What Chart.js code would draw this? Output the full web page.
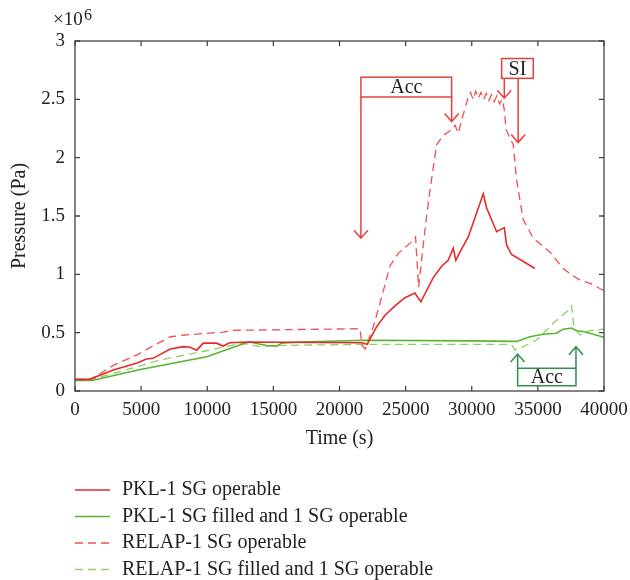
<!DOCTYPE html>
<html>
<head>
<meta charset="utf-8">
<script src="https://cdn.jsdelivr.net/npm/chart.js@4.4.0/dist/chart.umd.min.js"></script>
<style>
  html, body { margin: 0; padding: 0; background: #fff; }
  #wrap { width: 630px; height: 580px; position: relative; }
</style>
</head>
<body>
<div id="wrap"><canvas id="pressureChart"></canvas></div>
<script>
  // time in s, pressure in units of 10^6 Pa
  const pklOpTime = [0, 1100, 2900, 4700, 5400, 5900, 7200, 8200, 8700, 9200, 9700, 10700, 11200, 11700, 13000, 21700, 22100, 22800, 23440, 24200, 24950, 25700, 26150, 27080, 27720, 28220, 28600, 28800, 29100, 29735, 30870, 31120, 31880, 32460, 32640, 33010, 34780];
  const pklOpPress = [0.10, 0.10, 0.18, 0.24, 0.275, 0.28, 0.36, 0.38, 0.375, 0.35, 0.41, 0.41, 0.385, 0.414, 0.42, 0.414, 0.40, 0.55, 0.65, 0.73, 0.80, 0.84, 0.765, 0.97, 1.07, 1.12, 1.225, 1.12, 1.19, 1.32, 1.69, 1.57, 1.365, 1.40, 1.25, 1.17, 1.05];

  const pklFillTime = [0, 1300, 4760, 9950, 12850, 13200, 14490, 15250, 15600, 17000, 22000, 30000, 33400, 34400, 35400, 36400, 36920, 37550, 37920, 38430, 40000];
  const pklFillPress = [0.09, 0.09, 0.18, 0.294, 0.41, 0.42, 0.39, 0.385, 0.41, 0.42, 0.435, 0.43, 0.425, 0.465, 0.486, 0.495, 0.53, 0.54, 0.517, 0.51, 0.46];

  const relapOpTime = [0, 1200, 2900, 4700, 5800, 7200, 8300, 11200, 11950, 21550, 21700, 21950, 22550, 23060, 23810, 24440, 25580, 25750, 25980, 26460, 26840, 27340, 27840, 28480, 28730, 28980, 29230, 29740, 29900, 30100, 30300, 30500, 30700, 30900, 31100, 31300, 31500, 31700, 31900, 32100, 32300, 32450, 32600, 33140, 33390, 33890, 34650, 35910, 36920, 37500, 38180, 39000, 40000];
  const relapOpPress = [0.10, 0.10, 0.22, 0.31, 0.38, 0.465, 0.48, 0.505, 0.52, 0.534, 0.39, 0.36, 0.55, 0.75, 1.07, 1.18, 1.29, 1.32, 0.89, 1.38, 1.72, 2.11, 2.19, 2.24, 2.28, 2.21, 2.32, 2.52, 2.56, 2.50, 2.57, 2.51, 2.56, 2.50, 2.55, 2.49, 2.54, 2.48, 2.53, 2.46, 2.50, 2.42, 2.24, 2.11, 1.81, 1.47, 1.31, 1.19, 1.05, 1.00, 0.95, 0.92, 0.86];

  const relapFillTime = [0, 1300, 4760, 6430, 9950, 12600, 13980, 15000, 22000, 33000, 33260, 33640, 34900, 36160, 37170, 37550, 37720, 38180, 38930, 40000];
  const relapFillPress = [0.10, 0.10, 0.21, 0.266, 0.345, 0.41, 0.38, 0.39, 0.40, 0.40, 0.35, 0.366, 0.437, 0.58, 0.68, 0.73, 0.55, 0.48, 0.517, 0.53];

  const seriesNames = ['PKL-1 SG operable', 'PKL-1 SG filled and 1 SG operable', 'RELAP-1 SG operable', 'RELAP-1 SG filled and 1 SG operable'];
  const xTicks = [0, 5000, 10000, 15000, 20000, 25000, 30000, 35000, 40000];
  const yTicks = [0, 0.5, 1, 1.5, 2, 2.5, 3];

  // event markers (data units)
  const accRelapTime = [21620, 28480];
  const accRelapTip = [1.31, 2.31];
  const accRelapBox = [2.52, 2.69];
  const siBoxTime = [32260, 34650];
  const siArrowTime = [32460, 33510];
  const siTip = [2.51, 2.13];
  const siBox = [2.68, 2.85];
  const accFillTime = [33470, 37880];
  const accFillTip = [0.317, 0.38];
  const accFillBox = [0.045, 0.195];

  const serif = "'Liberation Serif', 'DejaVu Serif', serif";
  const red = '#e62a2a';
  const redDash = '#f05050';
  const green = '#56b52e';
  const greenDash = '#8ccf64';
  const markRed = '#e8403f';
  const markGreen = '#2f8f4e';

  function pts(t, p) {
    return t.map((v, i) => ({ x: v, y: p[i] }));
  }

  function arrow(ctx, x, y1, y2) {
    const dir = y2 > y1 ? 1 : -1;
    ctx.beginPath();
    ctx.moveTo(x, y1);
    ctx.lineTo(x, y2);
    ctx.moveTo(x - 7, y2 - dir * 8);
    ctx.lineTo(x, y2);
    ctx.lineTo(x + 7, y2 - dir * 8);
    ctx.stroke();
  }

  function box(ctx, xs, ys, label, color) {
    ctx.strokeStyle = color;
    ctx.strokeRect(xs[0], ys[1], xs[1] - xs[0], ys[0] - ys[1]);
    ctx.fillStyle = '#222';
    ctx.font = '20px ' + serif;
    ctx.textAlign = 'center';
    ctx.textBaseline = 'middle';
    ctx.fillText(label, (xs[0] + xs[1]) / 2, (ys[0] + ys[1]) / 2 + 1);
  }

  const framePlugin = {
    id: 'frame',
    afterDatasetsDraw(chart) {
      const { ctx, chartArea: a, scales } = chart;
      const sx = scales.x, sy = scales.y;
      ctx.save();
      ctx.strokeStyle = '#444';
      ctx.lineWidth = 1.3;
      ctx.strokeRect(a.left, a.top, a.right - a.left, a.bottom - a.top);
      ctx.beginPath();
      xTicks.forEach(v => {
        const x = sx.getPixelForValue(v);
        ctx.moveTo(x, a.bottom); ctx.lineTo(x, a.bottom - 5);
        ctx.moveTo(x, a.top); ctx.lineTo(x, a.top + 5);
      });
      yTicks.forEach(v => {
        const y = sy.getPixelForValue(v);
        ctx.moveTo(a.left, y); ctx.lineTo(a.left + 5, y);
        ctx.moveTo(a.right, y); ctx.lineTo(a.right - 5, y);
      });
      ctx.stroke();

      // x10^6 multiplier
      ctx.fillStyle = '#222';
      ctx.font = '19px ' + serif;
      ctx.textAlign = 'left';
      ctx.textBaseline = 'alphabetic';
      ctx.fillText('\u00d710', 53, 25);
      ctx.font = '16px ' + serif;
      ctx.fillText('6', 84, 20);

      // event markers
      ctx.lineWidth = 1.5;
      const X = v => sx.getPixelForValue(v);
      const Y = v => sy.getPixelForValue(v);

      ctx.strokeStyle = markRed;
      arrow(ctx, X(accRelapTime[0]), Y(accRelapBox[0]), Y(accRelapTip[0]));
      arrow(ctx, X(accRelapTime[1]), Y(accRelapBox[0]), Y(accRelapTip[1]));
      box(ctx, accRelapTime.map(X), accRelapBox.map(Y), 'Acc', markRed);

      ctx.strokeStyle = markRed;
      arrow(ctx, X(siArrowTime[0]), Y(siBox[0]), Y(siTip[0]));
      arrow(ctx, X(siArrowTime[1]), Y(siBox[0]), Y(siTip[1]));
      box(ctx, siBoxTime.map(X), siBox.map(Y), 'SI', markRed);

      ctx.strokeStyle = markGreen;
      arrow(ctx, X(accFillTime[0]), Y(accFillBox[1]), Y(accFillTip[0]));
      arrow(ctx, X(accFillTime[1]), Y(accFillBox[1]), Y(accFillTip[1]));
      box(ctx, accFillTime.map(X), accFillBox.map(Y), 'Acc', markGreen);
      ctx.restore();
    }
  };

  const legendPlugin = {
    id: 'stackLegend',
    afterDraw(chart) {
      const ctx = chart.ctx;
      const x0 = chart.scales.x.left;
      let y = chart.scales.x.bottom + 41;
      ctx.save();
      ctx.font = '20px ' + serif;
      ctx.textAlign = 'left';
      ctx.textBaseline = 'middle';
      chart.data.datasets.forEach(ds => {
        ctx.strokeStyle = ds.borderColor;
        ctx.lineWidth = ds.borderWidth;
        ctx.setLineDash(ds.borderDash || []);
        ctx.beginPath();
        ctx.moveTo(x0, y);
        ctx.lineTo(x0 + 35, y);
        ctx.stroke();
        ctx.setLineDash([]);
        ctx.fillStyle = '#222';
        ctx.fillText(ds.label, x0 + 47, y);
        y += 26.5;
      });
      ctx.restore();
    }
  };

  const ctx = document.getElementById('pressureChart');
  new Chart(ctx, {
    type: 'line',
    data: {
      datasets: [
        { label: seriesNames[0], data: pts(pklOpTime, pklOpPress), borderColor: red, borderWidth: 1.6 },
        { label: seriesNames[1], data: pts(pklFillTime, pklFillPress), borderColor: green, borderWidth: 1.6 },
        { label: seriesNames[2], data: pts(relapOpTime, relapOpPress), borderColor: redDash, borderWidth: 1.3, borderDash: [8, 5] },
        { label: seriesNames[3], data: pts(relapFillTime, relapFillPress), borderColor: greenDash, borderWidth: 1.3, borderDash: [8, 5] }
      ]
    },
    options: {
      responsive: true,
      maintainAspectRatio: false,
      animation: false,
      elements: { point: { radius: 0 }, line: { tension: 0 } },
      layout: { padding: { top: 41, right: 26, bottom: 131, left: 0 } },
      plugins: {
        legend: { display: false },
        tooltip: { enabled: false }
      },
      scales: {
        x: {
          type: 'linear',
          min: 0,
          max: 40000,
          afterBuildTicks: s => { s.ticks = xTicks.map(v => ({ value: v })); },
          afterFit: s => { s.height = 58; s.paddingLeft = 0; s.paddingRight = 0; },
          grid: { display: false },
          border: { display: false },
          ticks: {
            padding: 0,
            maxRotation: 0,
            color: '#222',
            font: { family: serif, size: 19 },
            callback: v => String(v)
          },
          title: {
            display: true,
            text: 'Time (s)',
            color: '#222',
            font: { family: serif, size: 20 },
            padding: { top: 0, bottom: -2 }
          }
        },
        y: {
          min: 0,
          max: 3,
          afterBuildTicks: s => { s.ticks = yTicks.map(v => ({ value: v })); },
          afterFit: s => { s.width = 75; },
          grid: { display: false },
          border: { display: false },
          ticks: {
            padding: 2,
            color: '#222',
            font: { family: serif, size: 19 },
            callback: v => String(v)
          },
          title: {
            display: true,
            text: 'Pressure (Pa)',
            color: '#222',
            font: { family: serif, size: 20 },
            padding: { top: 8, bottom: 0 }
          }
        }
      }
    },
    plugins: [framePlugin, legendPlugin]
  });
</script>
</body>
</html>
